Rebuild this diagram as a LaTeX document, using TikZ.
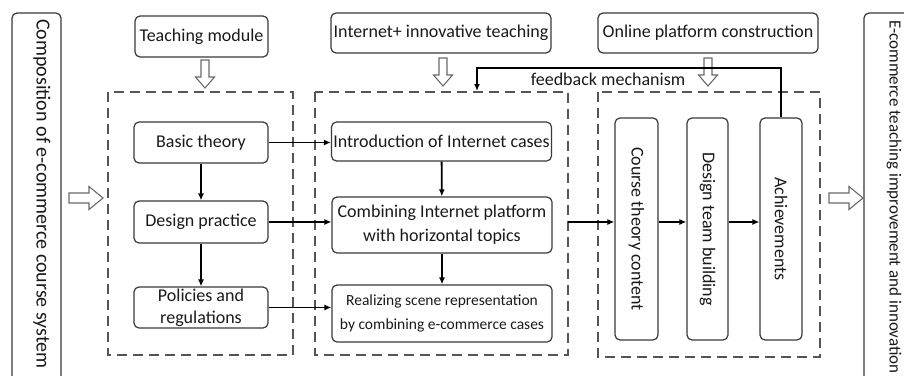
\documentclass[tikz,border=0pt]{standalone}
\usepackage{fontspec}
\setmainfont{Carlito}
\usetikzlibrary{arrows.meta,calc}
\definecolor{boxline}{HTML}{3A3A3A}
\definecolor{dashline}{HTML}{555555}
\definecolor{hollowcol}{HTML}{6A6A6A}
\definecolor{txt}{HTML}{1A1A1A}
\tikzset{
  x=1pt, y=-1pt,
  rbox/.style={draw=boxline, line width=1.2pt, rounded corners=5pt, inner sep=0pt, align=center, text=txt, font=\fontsize{18}{20}\selectfont},
  dbox/.style={draw=dashline, line width=1.5pt, dash pattern=on 10pt off 6pt},
  arr/.style={draw=black, line width=1.8pt, -{Latex[length=7pt,width=6pt]}},
  hollowline/.style={draw=hollowcol, line width=1.1pt, fill=white},
  hdown/.pic={\path[hollowline] (-4,0) -- (-4,17) -- (-9.5,17) -- (0,28) -- (9.5,17) -- (4,17) -- (4,0) -- cycle;},
  hright/.pic={\path[hollowline] (0,-5) -- (20,-5) -- (20,-11.5) -- (34,0) -- (20,11.5) -- (20,5) -- (0,5) -- cycle;},
  vtext/.style={rotate=-90, text=txt, inner sep=0pt}
}
\begin{document}
\begin{tikzpicture}
\clip (0,0) rectangle (904,375);
\fill[white] (0,0) rectangle (904,375);

% side boxes
\node[draw=boxline, line width=1.2pt, rounded corners=5pt, minimum width=49pt, minimum height=380pt, inner sep=0pt] (leftbox) at (36.5,203) {};
\node[vtext, font=\fontsize{20}{22}\selectfont] (lefttext) at (42,194) {Composition of e-commerce course system};
\node[draw=boxline, line width=1.2pt, rounded corners=5pt, minimum width=49pt, minimum height=380pt, inner sep=0pt] (rightbox) at (888.5,203) {};
\node[vtext, font=\fontsize{17}{19}\selectfont] (righttext) at (894,197) {E-commerce teaching improvement and innovation};

% hollow arrows
\pic at (69,198) {hright};
\pic at (829,198) {hright};
\pic at (205,60) {hdown};
\pic at (443,58) {hdown};
\pic at (708,58) {hdown};

% dashed boxes
\draw[dbox] (108,92) rectangle (293,355);
\draw[dbox] (315,92) rectangle (568,355);
\draw[dbox] (598,92) rectangle (820,357);
\coordinate (dash2e) at (568,222);
\coordinate (fbt) at (477,91);
\coordinate (fbh) at (0,68);

% top boxes
\node[rbox, minimum width=133pt, minimum height=41pt] (tm) at (201.5,36.5) {Teaching module};
\node[rbox, minimum width=220pt, minimum height=40pt] (it) at (441,33) {Internet+ innovative teaching};
\node[rbox, minimum width=220pt, minimum height=40pt] (op) at (708,33) {Online platform construction};

% column 1
\node[rbox, minimum width=134pt, minimum height=41pt] (basic) at (201,142.5) {Basic theory};
\node[rbox, minimum width=134pt, minimum height=42pt] (design) at (201,222) {Design practice};
\node[rbox, minimum width=134pt, minimum height=41pt, font=\fontsize{18}{22}\selectfont] (pol) at (201,307.5) {Policies and\\regulations};

% column 2
\node[rbox, minimum width=220pt, minimum height=39pt] (intro) at (441.5,141.5) {Introduction of Internet cases};
\node[rbox, minimum width=220pt, minimum height=56pt, font=\fontsize{18}{24}\selectfont] (comb) at (442,225) {Combining Internet platform\\with horizontal topics};
\node[rbox, minimum width=220pt, minimum height=57pt, font=\fontsize{15.5}{24}\selectfont] (real) at (442,313.5) {Realizing scene representation\\by combining e-commerce cases};

% column 3 (rotated: south anchor = left side, north anchor = right side, west = top)
\node[rbox, vtext, minimum width=222pt, minimum height=43pt] (course) at (636.5,229) {Course theory content};
\node[rbox, vtext, minimum width=222pt, minimum height=41pt] (team) at (707.5,229) {Design team building};
\node[rbox, vtext, minimum width=222pt, minimum height=42pt] (ach) at (781,229) {Achievements};

% connectors
\draw[arr] (basic.east) -- (basic.east -| intro.west);
\draw[arr] (design.east) -- (design.east -| comb.west);
\draw[arr] (pol.east) -- (pol.east -| real.west);
\draw[arr] (basic) -- (design);
\draw[arr] (design) -- (pol);
\draw[arr] (intro) -- (comb);
\draw[arr] (comb) -- (real);
\draw[arr] (dash2e) -- (dash2e -| course.south);
\draw[arr] (dash2e -| course.north) -- (dash2e -| team.south);
\draw[arr] (dash2e -| team.north) -- (dash2e -| ach.south);
\draw[arr] (ach.west) -- (ach.west |- fbh) -| (fbt);
\node[text=txt, font=\fontsize{18}{20}\selectfont, inner sep=0pt] (fblabel) at (608,79) {feedback mechanism};
\end{tikzpicture}
\end{document}
